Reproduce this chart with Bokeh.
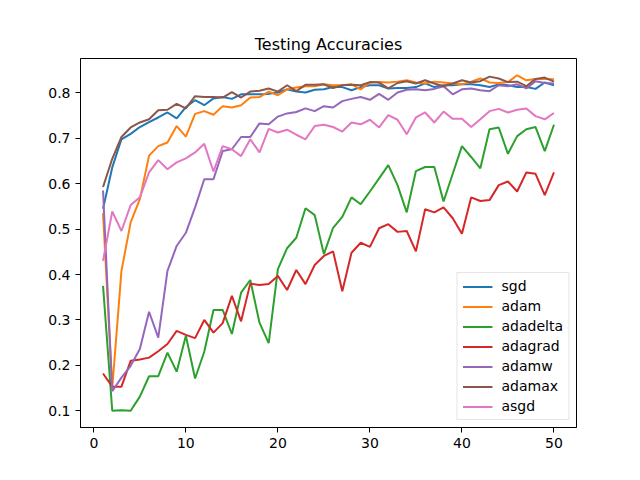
import numpy as np
from bokeh.plotting import figure
from bokeh.models import FixedTicker, Range1d, Legend, LegendItem
from bokeh.embed import file_html
from bokeh.resources import INLINE

epochs = list(range(1, 51))

sgd = [0.545, 0.636, 0.698, 0.710, 0.725, 0.736, 0.746, 0.757, 0.744, 0.769,
       0.784, 0.773, 0.788, 0.791, 0.787, 0.797, 0.797, 0.797, 0.798, 0.801,
       0.808, 0.803, 0.801, 0.807, 0.808, 0.813, 0.813, 0.806, 0.813, 0.817,
       0.817, 0.810, 0.811, 0.811, 0.813, 0.821, 0.813, 0.817, 0.817, 0.819,
       0.819, 0.817, 0.813, 0.819, 0.817, 0.813, 0.813, 0.809, 0.823, 0.817]
adam = [0.535, 0.150, 0.408, 0.515, 0.566, 0.662, 0.683, 0.691, 0.727, 0.704,
        0.754, 0.760, 0.752, 0.771, 0.768, 0.773, 0.790, 0.791, 0.803, 0.795,
        0.808, 0.812, 0.815, 0.815, 0.819, 0.817, 0.817, 0.819, 0.808, 0.823,
        0.824, 0.823, 0.825, 0.828, 0.823, 0.821, 0.825, 0.823, 0.821, 0.819,
        0.825, 0.832, 0.823, 0.822, 0.824, 0.839, 0.828, 0.831, 0.831, 0.830]
adadelta = [0.375, 0.100, 0.101, 0.100, 0.131, 0.176, 0.176, 0.228, 0.186, 0.265,
            0.171, 0.230, 0.322, 0.322, 0.269, 0.360, 0.388, 0.294, 0.249, 0.412,
            0.458, 0.481, 0.546, 0.531, 0.445, 0.503, 0.527, 0.570, 0.555, 0.583,
            0.612, 0.641, 0.597, 0.537, 0.628, 0.637, 0.637, 0.561, 0.622, 0.683,
            0.659, 0.634, 0.720, 0.724, 0.666, 0.705, 0.720, 0.725, 0.672, 0.730]
adagrad = [0.182, 0.153, 0.153, 0.210, 0.213, 0.217, 0.231, 0.247, 0.276, 0.267,
           0.260, 0.300, 0.272, 0.293, 0.353, 0.297, 0.380, 0.377, 0.379, 0.397,
           0.366, 0.410, 0.379, 0.421, 0.441, 0.451, 0.363, 0.448, 0.470, 0.461,
           0.502, 0.511, 0.494, 0.496, 0.451, 0.544, 0.537, 0.548, 0.524, 0.490,
           0.570, 0.562, 0.564, 0.597, 0.605, 0.583, 0.625, 0.622, 0.575, 0.625]
adamw = [0.585, 0.143, 0.173, 0.199, 0.236, 0.318, 0.261, 0.408, 0.463, 0.492,
         0.548, 0.610, 0.610, 0.672, 0.676, 0.703, 0.703, 0.733, 0.731, 0.748,
         0.755, 0.758, 0.766, 0.760, 0.771, 0.768, 0.782, 0.787, 0.791, 0.785,
         0.798, 0.785, 0.801, 0.807, 0.808, 0.806, 0.809, 0.815, 0.797, 0.808,
         0.810, 0.806, 0.804, 0.817, 0.815, 0.819, 0.810, 0.826, 0.822, 0.821]
adamax = [0.593, 0.655, 0.703, 0.724, 0.735, 0.742, 0.762, 0.763, 0.776, 0.766,
          0.793, 0.791, 0.791, 0.790, 0.802, 0.790, 0.803, 0.805, 0.810, 0.803,
          0.817, 0.804, 0.818, 0.818, 0.819, 0.811, 0.817, 0.818, 0.817, 0.824,
          0.823, 0.810, 0.822, 0.826, 0.821, 0.828, 0.821, 0.815, 0.821, 0.828,
          0.823, 0.826, 0.836, 0.832, 0.824, 0.825, 0.815, 0.831, 0.834, 0.825]
asgd = [0.430, 0.539, 0.496, 0.553, 0.570, 0.625, 0.652, 0.632, 0.647, 0.656,
        0.669, 0.688, 0.627, 0.683, 0.676, 0.661, 0.698, 0.669, 0.721, 0.713,
        0.719, 0.708, 0.698, 0.727, 0.730, 0.725, 0.715, 0.735, 0.731, 0.741,
        0.724, 0.751, 0.741, 0.709, 0.746, 0.757, 0.735, 0.759, 0.743, 0.743,
        0.725, 0.742, 0.760, 0.765, 0.757, 0.763, 0.766, 0.749, 0.742, 0.756]

names = ["sgd", "adam", "adadelta", "adagrad", "adamw", "adamax", "asgd"]
series = [sgd, adam, adadelta, adagrad, adamw, adamax, asgd]
colors = ["#1f77b4", "#ff7f0e", "#2ca02c", "#d62728", "#9467bd", "#8c564b", "#e377c2"]
x_ticks = [0, 10, 20, 30, 40, 50]
y_ticks = [0.1, 0.2, 0.3, 0.4, 0.5, 0.6, 0.7, 0.8]
title = "Testing Accuracies"

allv = np.concatenate([np.array(s) for s in series])
ymin, ymax = allv.min(), allv.max()
yr = ymax - ymin
xmin, xmax = min(epochs), max(epochs)
xr = xmax - xmin

p = figure(width=624, height=464, output_backend="svg", toolbar_location=None,
           x_range=Range1d(xmin - 0.05 * xr, xmax + 0.05 * xr),
           y_range=Range1d(ymin - 0.05 * yr, ymax + 0.05 * yr),
           min_border_left=80, min_border_right=48, min_border_top=58,
           min_border_bottom=37, title=title)
p.title.align = "center"
p.title.text_font = "DejaVu Sans"
p.title.text_font_size = "16px"
p.title.text_font_style = "normal"
p.title.text_color = "black"
p.title.offset = 0

p.xgrid.visible = False
p.ygrid.visible = False
p.outline_line_color = "black"
p.outline_line_width = 1
p.background_fill_color = "white"
p.border_fill_color = "white"

p.xaxis.ticker = FixedTicker(ticks=x_ticks)
p.yaxis.ticker = FixedTicker(ticks=y_ticks)
for ax in (p.xaxis, p.yaxis):
    ax.minor_tick_line_color = None
    ax.major_tick_in = 0
    ax.major_tick_out = 5
    ax.major_label_text_font = "DejaVu Sans"
    ax.major_label_text_font_size = "14px"
    ax.major_label_text_color = "black"
    ax.axis_line_color = "black"
    ax.major_tick_line_color = "black"
    ax.major_label_standoff = 5

items = []
for name, s, c in zip(names, series, colors):
    r = p.line(epochs, s, line_color=c, line_width=2)
    items.append(LegendItem(label=name, renderers=[r]))

legend = Legend(items=items, location="bottom_right")
legend.label_text_font = "DejaVu Sans"
legend.label_text_font_size = "14px"
legend.label_text_color = "black"
legend.glyph_width = 30
legend.glyph_height = 15
legend.label_height = 15
legend.spacing = 4
legend.padding = 5
legend.margin = 7
legend.label_standoff = 9
legend.border_line_color = "#cccccc"
legend.border_line_width = 1
legend.background_fill_alpha = 0.8
p.add_layout(legend)

open("out.html", "w").write(file_html(p, INLINE))
